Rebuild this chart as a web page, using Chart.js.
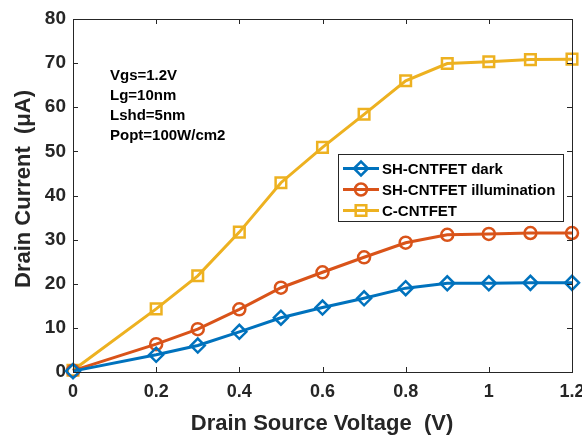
<!DOCTYPE html>
<html>
<head>
<meta charset="utf-8">
<script src="https://cdn.jsdelivr.net/npm/chart.js@4.4.1/dist/chart.umd.min.js"></script>
<style>
html,body{margin:0;padding:0;background:#fff;}
#wrap{width:582px;height:437px;}
</style>
</head>
<body>
<div id="wrap"><canvas id="c" width="582" height="437"></canvas></div>
<script>
const vds = [0, 0.2, 0.3, 0.4, 0.5, 0.6, 0.7, 0.8, 0.9, 1.0, 1.1, 1.2];
const shDark = [0.2, 3.9, 6.0, 9.1, 12.3, 14.6, 16.7, 19.0, 20.1, 20.1, 20.2, 20.2];
const shIllum = [0.3, 6.3, 9.7, 14.2, 19.1, 22.6, 26.0, 29.3, 31.1, 31.3, 31.5, 31.5];
const cCntfet = [0.4, 14.3, 21.8, 31.7, 42.9, 50.9, 58.4, 66.0, 69.9, 70.3, 70.8, 70.9];
const seriesNames = ['SH-CNTFET dark', 'SH-CNTFET illumination', 'C-CNTFET'];
const annotations = ['Vgs=1.2V', 'Lg=10nm', 'Lshd=5nm', 'Popt=100W/cm2'];
const xTitle = 'Drain Source Voltage  (V)';
const yTitle = 'Drain Current  (\u03bcA)';

const colors = ['#0072BD', '#D95319', '#EDB120'];
const styles = ['rectRot', 'circle', 'rect'];
const radii = [7, 6, 7.5];

function ds(i, vals) {
  return {
    label: seriesNames[i],
    data: vds.map((x, k) => ({x: x, y: vals[k]})),
    borderColor: colors[i],
    backgroundColor: 'rgba(0,0,0,0)',
    borderWidth: 3,
    pointStyle: styles[i],
    pointRadius: radii[i],
    pointBorderWidth: 2.5,
    pointBorderColor: colors[i],
    pointBackgroundColor: 'rgba(0,0,0,0)',
    clip: false,
    tension: 0
  };
}

const FONT = 'Arial, "Liberation Sans", sans-serif';

const decor = {
  id: 'decor',
  afterDatasetsDraw(chart) {
    const ctx = chart.ctx;
    const a = chart.chartArea;
    const xs = chart.scales.x, ys = chart.scales.y;
    ctx.save();
    // box
    ctx.strokeStyle = '#262626';
    ctx.lineWidth = 1;
    ctx.strokeRect(Math.round(a.left) + 0.5, Math.round(a.top) + 0.5, Math.round(a.right - a.left), Math.round(a.bottom - a.top));
    // inward ticks
    const tl = 5;
    ctx.beginPath();
    xs.ticks.forEach(t => {
      const px = Math.round(xs.getPixelForValue(t.value)) + 0.5;
      ctx.moveTo(px, a.bottom); ctx.lineTo(px, a.bottom - tl);
      ctx.moveTo(px, a.top); ctx.lineTo(px, a.top + tl);
    });
    ys.ticks.forEach(t => {
      const py = Math.round(ys.getPixelForValue(t.value)) + 0.5;
      ctx.moveTo(a.left, py); ctx.lineTo(a.left + tl, py);
      ctx.moveTo(a.right, py); ctx.lineTo(a.right - tl, py);
    });
    ctx.stroke();

    // annotations
    ctx.fillStyle = '#000';
    ctx.font = 'bold 15px ' + FONT;
    ctx.textAlign = 'left';
    ctx.textBaseline = 'middle';
    annotations.forEach((s, i) => ctx.fillText(s, 110, 76 + i * 20));

    // legend
    const lx = 338, ly = 154, lw = 225, lh = 67;
    ctx.fillStyle = '#fff';
    ctx.fillRect(lx, ly, lw, lh);
    ctx.strokeStyle = '#262626';
    ctx.lineWidth = 1;
    ctx.strokeRect(lx + 0.5, ly + 0.5, lw, lh);
    chart.data.datasets.forEach((d, i) => {
      const cy = 168.5 + i * 21;
      ctx.strokeStyle = d.borderColor;
      ctx.lineWidth = 3;
      ctx.beginPath();
      ctx.moveTo(343, cy); ctx.lineTo(379, cy);
      ctx.stroke();
      ctx.lineWidth = 2.5;
      ctx.fillStyle = 'rgba(0,0,0,0)';
      Chart.helpers.drawPoint(ctx, {pointStyle: d.pointStyle, radius: d.pointRadius, borderWidth: 2.5, rotation: 0}, 361, cy);
      ctx.fillStyle = '#000';
      ctx.font = 'bold 15px ' + FONT;
      ctx.textAlign = 'left';
      ctx.textBaseline = 'middle';
      ctx.fillText(d.label, 382, cy + 1);
    });

    // axis titles
    ctx.fillStyle = '#262626';
    ctx.font = 'bold 22px ' + FONT;
    ctx.textAlign = 'center';
    ctx.textBaseline = 'middle';
    ctx.fillText(xTitle, 322, 424);
    ctx.translate(24, 189);
    ctx.rotate(-Math.PI / 2);
    ctx.fillText(yTitle, 0, 0);
    ctx.restore();
  }
};

new Chart(document.getElementById('c'), {
  type: 'line',
  data: {
    datasets: [ds(0, shDark), ds(1, shIllum), ds(2, cCntfet)]
  },
  options: {
    responsive: false,
    animation: false,
    devicePixelRatio: 1,
    layout: {padding: {left: 0, right: 10, top: 19, bottom: 0}},
    plugins: {legend: {display: false}, tooltip: {enabled: false}},
    scales: {
      x: {
        type: 'linear',
        min: 0, max: 1.2,
        ticks: {
          stepSize: 0.2,
          padding: 9,
          color: '#262626',
          font: {family: FONT, size: 18, weight: 'bold'},
          maxRotation: 0,
          callback: v => (Math.round(v * 10) / 10).toString()
        },
        grid: {display: false, drawTicks: false},
        border: {display: false},
        afterFit(s) { s.height = 65; s.paddingLeft = 0; s.paddingRight = 0; }
      },
      y: {
        min: 0, max: 80,
        ticks: {
          stepSize: 10,
          padding: 7,
          color: '#262626',
          font: {family: FONT, size: 19, weight: 'bold'}
        },
        grid: {display: false, drawTicks: false},
        border: {display: false},
        afterFit(s) { s.width = 73; s.paddingTop = 0; s.paddingBottom = 0; }
      }
    }
  },
  plugins: [decor]
});
</script>
</body>
</html>
